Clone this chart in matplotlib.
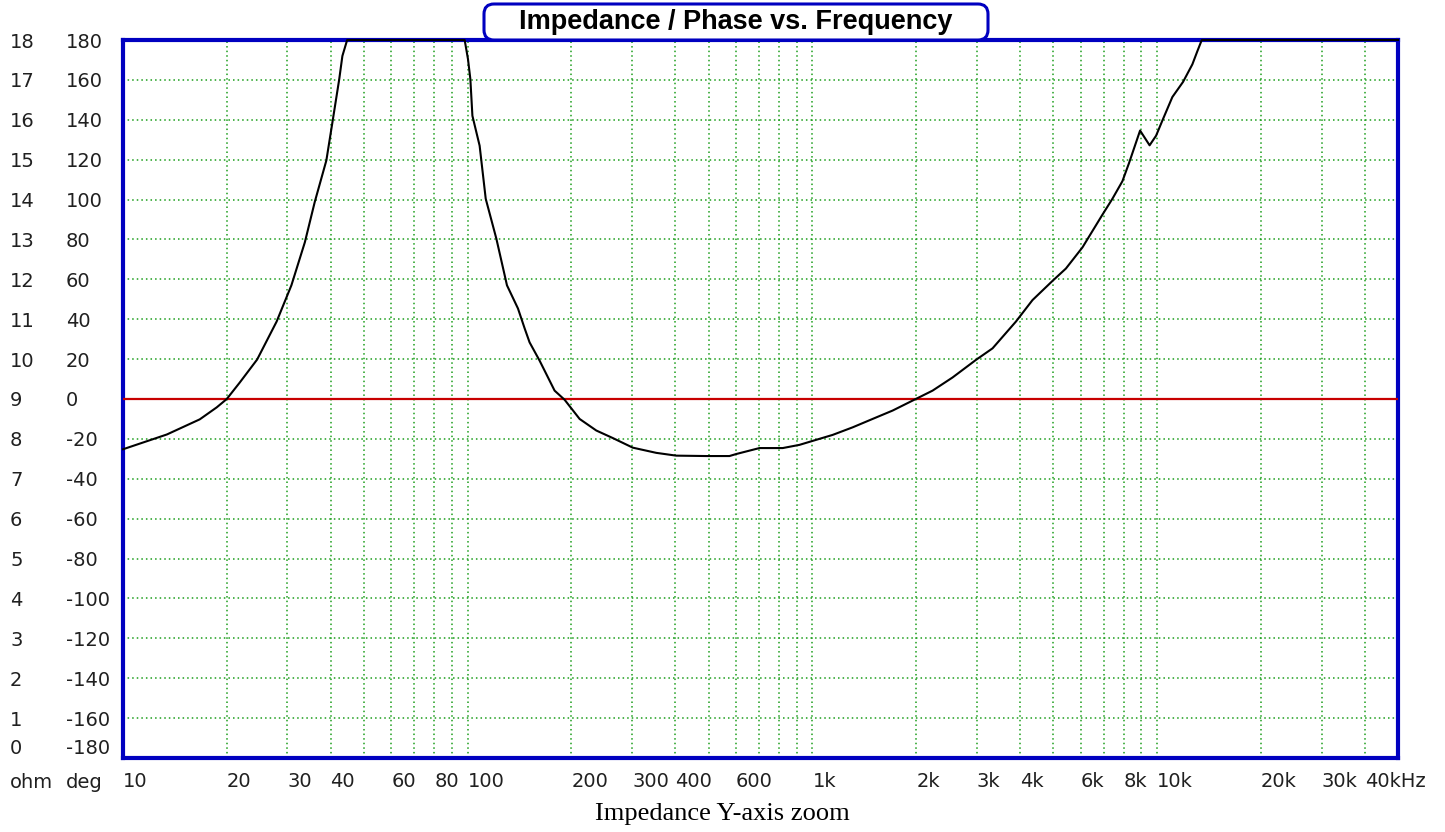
# Impedance / phase vs frequency plot (impedance y-axis zoom)

import matplotlib
matplotlib.use('Agg')
import matplotlib.pyplot as plt
from matplotlib.patches import FancyBboxPatch
from matplotlib.transforms import IdentityTransform
import numpy as np

# impedance curve (Hz, ohm); clipped at top of scale (18 ohm)
freq = [10, 13.4, 16.7, 18.7, 20, 21.8, 24.5, 27.9, 30.8, 33.7, 36.0, 38.9,
        40.5, 42.4, 43.3, 44.7, 98, 100.2, 101.8, 103.2, 108.3, 112.8, 121.1,
        130, 139.9, 146.3, 151.2, 161.7, 178.7, 191.1, 211.2, 236.1, 263.8,
        301.3, 352.4, 402.6, 491.9, 574.7, 600.9, 702.2, 820.2, 917.1, 1002,
        1145, 1309, 1495, 1709, 1953, 2232, 2551, 2982, 3332, 3894, 4351,
        4972, 5438, 6074, 6941, 7421, 7933, 8296, 8927, 9513, 9933, 10360,
        11075, 11896, 12659, 13089, 13480, 50000]
ohm = [7.74, 8.11, 8.49, 8.79, 9.0, 9.41, 9.99, 10.94, 11.85, 12.93, 13.94,
       14.98, 15.93, 17.02, 17.6, 18, 18, 17.52, 17.02, 16.1, 15.35, 14.02,
       13.02, 11.85, 11.27, 10.77, 10.42, 9.96, 9.21, 8.98, 8.5, 8.21, 8.02,
       7.78, 7.65, 7.58, 7.57, 7.57, 7.62, 7.77, 7.77, 7.85, 7.95, 8.1, 8.29,
       8.5, 8.71, 8.96, 9.21, 9.54, 9.98, 10.27, 10.94, 11.48, 11.96, 12.27,
       12.8, 13.62, 14.02, 14.46, 14.92, 15.73, 15.36, 15.6, 15.98, 16.57,
       16.95, 17.39, 17.72, 18, 18]

# phase trace (flat at 0 deg)
phase_freq = [10, 50000]
phase_deg = [0, 0]

grid_freqs = [20, 30, 40, 50, 60, 70, 80, 90, 100, 200, 300, 400, 500, 600,
              700, 800, 900, 1000, 2000, 3000, 4000, 5000, 6000, 7000, 8000,
              9000, 10000, 20000, 30000, 40000]
xlabel_freqs = [10, 20, 30, 40, 60, 80, 100, 200, 300, 400, 600, 1000, 2000,
                3000, 4000, 6000, 8000, 10000, 20000, 30000, 40000]
xlabel_text = ['10', '20', '30', '40', '60', '80', '100', '200', '300', '400',
               '600', '1k', '2k', '3k', '4k', '6k', '8k', '10k', '20k', '30k',
               '40kHz']
ohm_ticks = list(range(0, 19))
deg_ticks = list(range(-180, 181, 20))

W, H = 1445, 832
blue = '#0000c0'
green = '#1c9e1c'
txt = '#202020'
fs = 14

fig = plt.figure(figsize=(W / 100, H / 100), dpi=100)
ax = fig.add_axes([123 / W, 1 - 758 / H, (1398 - 123) / W, (758 - 40) / H])

ax.set_xscale('log')
ax.set_xlim(10, 50000)
ax.set_ylim(0, 18)

# grid (minor ticks carry the vertical grid, keep those under labels too)
ax.xaxis.remove_overlapping_locs = False
ax.set_xticks(grid_freqs, minor=True)
ax.set_xticklabels([], minor=True)
ax.set_yticks(ohm_ticks)
ax.grid(which='minor', axis='x', color=green, ls=(0, (1, 2)), lw=1.1)
ax.grid(which='major', axis='y', color=green, ls=(0, (1, 2)), lw=1.1)
ax.tick_params(which='minor', length=0)

# x labels left aligned at their grid line
ax.set_xticks(xlabel_freqs)
ax.set_xticklabels(xlabel_text)
ax.tick_params(axis='x', which='major', length=0, pad=10, labelsize=fs,
               colors=txt)
for lab in ax.get_xticklabels():
    lab.set_ha('left')

# ohm labels
ax.set_yticklabels([str(v) for v in ohm_ticks])
ax.tick_params(axis='y', length=0, pad=113 * 0.72, labelsize=fs, colors=txt)
for lab in ax.get_yticklabels():
    lab.set_ha('left')
ax.get_yticklabels()[0].set_va('bottom')

# deg labels
sec = ax.secondary_yaxis('left', functions=(lambda o: o * 20 - 180,
                                            lambda d: (d + 180) / 20))
sec.set_yticks(deg_ticks)
sec.set_yticklabels([str(v) for v in deg_ticks])
sec.tick_params(length=0, pad=57 * 0.72, labelsize=fs, colors=txt)
sec.spines['left'].set_visible(False)
for lab in sec.get_yticklabels():
    lab.set_ha('left')
sec.get_yticklabels()[0].set_va('bottom')

for sp in ax.spines.values():
    sp.set_color(blue)
    sp.set_linewidth(3)

# traces: phase on a deg scale mapped onto the ohm scale
ax.plot(phase_freq, (np.array(phase_deg) + 180) / 20, color='#c80000', lw=1.6,
        zorder=3)
ax.plot(freq, ohm, color='black', lw=1.5, zorder=4, clip_on=False)

fig.text(10 / W, 1 - 782 / H, 'ohm', fontsize=fs, color=txt,
         ha='left', va='center')
fig.text(66 / W, 1 - 782 / H, 'deg', fontsize=fs, color=txt,
         ha='left', va='center')

# title box
box = FancyBboxPatch((484, H - 40), 504, 36,
                     boxstyle='round,pad=0,rounding_size=10',
                     transform=IdentityTransform(), fc='white', ec=blue,
                     lw=2.2, zorder=10)
fig.patches.append(box)
fig.text(736 / W, 1 - 22 / H, 'Impedance / Phase vs. Frequency',
         family='Liberation Sans', weight='bold', fontsize=19.5,
         ha='center', va='center', zorder=11)

fig.text(722 / W, 1 - 814 / H, 'Impedance Y-axis zoom',
         family='Liberation Serif', fontsize=19, ha='center', va='center')

fig.savefig('out.png', dpi=100)
